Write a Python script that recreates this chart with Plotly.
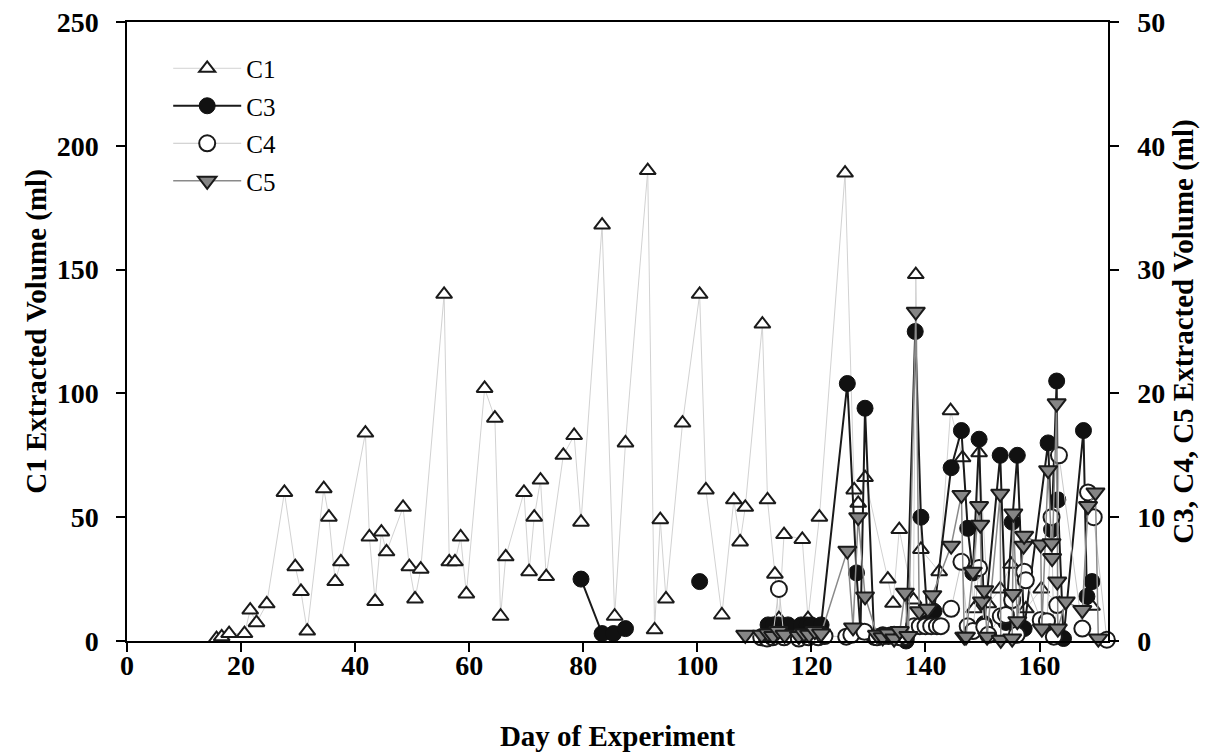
import plotly.graph_objects as go

# ---- C1 extracted volume (ml), left axis ----
c1_day = [15.7, 16.6, 17.9, 20.6, 21.6, 22.7, 24.5, 27.6, 29.5, 30.5, 31.6, 34.5, 35.4, 36.5,
          37.5, 41.8, 42.5, 43.5, 44.6, 45.5, 48.4, 49.5, 50.5, 51.5, 55.6, 56.5, 57.5, 58.5,
          59.5, 62.7, 64.5, 65.5, 66.4, 69.6, 70.5, 71.4, 72.5, 73.5, 76.5, 78.4, 79.6, 83.3,
          85.5, 87.4, 91.3, 92.5, 93.5, 94.5, 97.4, 100.4, 101.5, 104.3, 106.4, 107.5, 108.4,
          111.4, 112.3, 113.6, 114.3, 115.2, 118.4, 119.4, 121.4, 125.9, 127.5, 128.2, 129.4,
          133.4, 134.3, 135.4, 137.9, 138.3, 139.2, 142.4, 144.4, 146.5, 148.5, 149.4, 151.0,
          153.1, 155.0, 157.6, 160.3, 163.5, 169.2]
c1_vol = [1, 1.7, 3, 3, 12.5, 7.4, 15, 60, 30, 20, 4, 61.5, 50, 24,
          32, 84, 42, 16, 44, 36, 54, 30, 17, 29, 140, 32, 32, 42,
          19, 102, 90, 10, 34, 60, 28, 50, 65, 26, 75, 83, 48, 168,
          10, 80, 190, 4.5, 49, 17, 88, 140, 61, 10.5, 57, 40, 54,
          128, 57, 27, 9, 43, 41, 9, 50, 189, 61, 55.6, 66,
          25, 15.2, 45, 16.6, 148, 37, 28, 93, 74, 13, 76, 15,
          21, 31, 13, 21, 15, 14]

# ---- C3 extracted volume (ml), right axis (None = no sample / break in line) ----
c3_day = [79.6, 83.3, 85.3, 87.4, None, 100.4, None,
          112.4, 113.3, 114.2, 115.9, 118.2, 119.2, 120.0, 121.7, 126.3, 127.9, 128.6, 129.4,
          131.0, 132.5, 134.0, 135.5, 136.6, 138.2, 139.2, 140.4, 141.5, 144.5, 146.3, 147.4,
          148.3, 149.4, 150.3, 153.1, 154.1, 155.2, 156.1, 157.3, 161.5, 162.1, 163.0, 163.2,
          164.2, 167.7, 168.3, 169.2]
c3_vol = [5, 0.6, 0.6, 1.0, None, 4.8, None,
          1.3, 1.3, 1.3, 1.3, 1.3, 1.3, 1.3, 1.3, 20.8, 5.5, 0.8, 18.8,
          0.3, 0.5, 0.5, 0.3, 0.0, 25, 10, 1.5, 2.4, 14, 17, 9.1,
          5.5, 16.3, 1.4, 15, 1.5, 9.6, 15, 1.0, 16, 9, 21, 11.4,
          0.2, 17, 3.6, 4.8]

# ---- C4 extracted volume (ml), right axis ----
c4_day = [111.2, 112.2, 113.2, 114.3, 115.2, 117.8, 119.5, 121.2, 122.3, 126.1, 127.0, 129.3,
          131.5, 132.5, 133.5, 134.5, 135.5, 136.6, 138.0, 139.0, 140.0, 141.0, 142.0, 142.7,
          144.5, 146.3, 147.4, 148.3, 149.4, 150.3, 151.0, 153.2, 154.1, 155.2, 156.0, 157.3,
          157.6, 160.2, 161.3, 162.1, 162.5, 163.1, 163.4, 167.5, 168.5, 169.5, 171.8]
c4_vol = [0.3, 0.2, 0.3, 4.2, 0.3, 0.2, 0.3, 0.3, 0.4, 0.35, 0.5, 0.75,
          0.3, 0.4, 0.4, 0.5, 0.3, 0.35, 1.2, 1.2, 1.2, 1.2, 1.2, 1.2,
          2.6, 6.4, 1.2, 0.8, 5.9, 1.15, 0.5, 2.0, 2.1, 3.3, 0.5, 5.6,
          4.9, 1.7, 1.6, 10, 0.35, 2.9, 15, 1.0, 12, 10, 0.1]

# ---- C5 extracted volume (ml), right axis ----
c5_day = [108.4, 111.3, 112.4, 113.3, 114.2, 115.3, 117.8, 118.7, 119.6, 120.6, 121.7,
          126.3, 127.3, 128.2, 129.4, 131.5, 132.5, 133.5, 134.5, 135.5, 136.4, 137.0,
          138.3, 138.9, 140.4, 141.2, 144.5, 146.3, 146.8, 147.1, 148.3, 149.4, 149.6,
          149.9, 150.3, 150.8, 153.1, 153.2, 155.2, 155.3, 155.4, 156.1, 157.2, 157.3,
          160.2, 160.4, 161.5, 162.1, 162.2, 163.0, 163.1, 163.2, 164.6, 167.5, 168.5,
          169.8, 170.3]
c5_vol = [0.5, 0.5, 0.6, 0.4, 0.8, 0.5, 0.4, 0.6, 0.5, 0.8, 0.6,
          7.3, 1.1, 10, 3.6, 0.5, 0.3, 0.6, 0.2, 0.8, 3.9, 0.4,
          26.6, 2.4, 2.6, 3.7, 7.7, 11.8, 0.35, 0.35, 5.6, 10.9, 9.4,
          3.2, 4.1, 0.35, 11.9, 0.1, 0.2, 3.8, 10.3, 1.6, 7.7, 8.5,
          7.8, 1.0, 13.8, 7.9, 6.7, 19.2, 4.8, 1.0, 3.2, 2.5, 10.9,
          12, 0.2]

x_ticks = [0, 20, 40, 60, 80, 100, 120, 140, 160]
left_ticks = [0, 50, 100, 150, 200, 250]
right_ticks = [0, 10, 20, 30, 40, 50]

SERIF = "Liberation Serif, Times New Roman, serif"
tick_font = dict(family=SERIF, size=28, color="black", weight="bold")
title_font = dict(family=SERIF, size=29, color="black", weight="bold")

fig = go.Figure()

fig.add_trace(go.Scatter(
    x=c1_day, y=c1_vol, name="C1", mode="lines+markers", yaxis="y",
    line=dict(color="#d2d2d2", width=1),
    marker=dict(symbol="triangle-up", size=14, color="white",
                line=dict(color="#1a1a1a", width=2)),
    cliponaxis=False, legendgroup="c1"))

fig.add_trace(go.Scatter(
    x=c3_day, y=c3_vol, name="C3", mode="lines+markers", yaxis="y2",
    line=dict(color="#1a1a1a", width=2), connectgaps=False,
    marker=dict(symbol="circle", size=16, color="#111111",
                line=dict(color="#111111", width=1)),
    cliponaxis=False, legendgroup="c3"))

fig.add_trace(go.Scatter(
    x=c4_day, y=c4_vol, name="C4", mode="lines+markers", yaxis="y2",
    line=dict(color="#c8c8c8", width=1),
    marker=dict(symbol="circle", size=16, color="white",
                line=dict(color="#1a1a1a", width=2)),
    cliponaxis=False, legendgroup="c4"))

fig.add_trace(go.Scatter(
    x=c5_day, y=c5_vol, name="C5", mode="lines+markers", yaxis="y2",
    line=dict(color="#8a8a8a", width=1.5),
    marker=dict(symbol="triangle-down", size=16, color="#858585",
                line=dict(color="#1a1a1a", width=2)),
    cliponaxis=False, legendgroup="c5"))

fig.update_layout(
    width=1216, height=752,
    margin=dict(l=127, r=108, t=22, b=111),
    paper_bgcolor="white", plot_bgcolor="white",
    showlegend=True,
    legend=dict(x=0.042, y=0.962, xanchor="left", yanchor="top",
                bgcolor="rgba(0,0,0,0)", borderwidth=0,
                font=dict(family=SERIF, size=25, color="black"),
                itemwidth=68, tracegroupgap=2),
    xaxis=dict(range=[0, 172], tickvals=x_ticks, ticks="outside", ticklen=9,
               tickwidth=1.5, tickcolor="black", showline=True, linecolor="black",
               linewidth=1.5, mirror=True, showgrid=False, zeroline=False,
               tickfont=tick_font, ticklabelstandoff=-10, automargin=False,
               title=dict(text="Day of Experiment", font=title_font, standoff=48)),
    yaxis=dict(range=[0, 250], tickvals=left_ticks, ticks="outside", ticklen=9,
               tickwidth=1.5, tickcolor="black", showline=True, linecolor="black",
               linewidth=1.5, showgrid=False, zeroline=False, tickfont=tick_font,
               ticklabelstandoff=12, automargin=False,
               title=dict(text="C1 Extracted Volume (ml)", font=title_font, standoff=2)),
    yaxis2=dict(range=[0, 50], tickvals=right_ticks, overlaying="y", side="right",
                ticks="outside", ticklen=9, tickwidth=1.5, tickcolor="black",
                showline=True, linecolor="black", linewidth=1.5, showgrid=False,
                zeroline=False, tickfont=tick_font, ticklabelstandoff=13,
                automargin=False,
                title=dict(text="C3, C4, C5 Extracted Volume (ml)", font=title_font,
                           standoff=8)),
)

fig.write_html("out.html")
